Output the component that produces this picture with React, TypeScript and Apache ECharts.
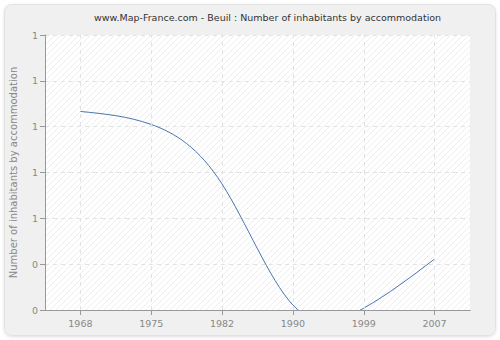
import React, { useEffect, useRef } from "react";
import * as echarts from "echarts";

const title = "www.Map-France.com - Beuil : Number of inhabitants by accommodation";
const yAxisName = "Number of inhabitants by accommodation";
const years = ["1968", "1975", "1982", "1990", "1999", "2007"];
const values = [1.083, 1.012, 0.687, 0.027, 0.01, 0.278];
const yTickLabels = ["0", "0", "1", "1", "1", "1", "1"];
const yStep = 0.25;
const yMax = 1.5;

// natural cubic spline slopes (uniform spacing in category index)
function naturalSplineSlopes(y: number[]): number[] {
  const n = y.length;
  const M = new Array(n).fill(0);
  if (n > 2) {
    const m = n - 2;
    const c: number[] = new Array(m).fill(0);
    const d: number[] = new Array(m).fill(0);
    for (let k = 0; k < m; k++) {
      const i = k + 1;
      const rhs = 6 * (y[i + 1] - 2 * y[i] + y[i - 1]);
      if (k === 0) {
        c[k] = 1 / 4;
        d[k] = rhs / 4;
      } else {
        const den = 4 - c[k - 1];
        c[k] = 1 / den;
        d[k] = (rhs - d[k - 1]) / den;
      }
    }
    for (let k = m - 1; k >= 0; k--) {
      M[k + 1] = d[k] - (k < m - 1 ? c[k] * M[k + 2] : 0);
    }
  }
  const slopes: number[] = [];
  for (let i = 0; i < n - 1; i++) {
    slopes.push(y[i + 1] - y[i] - (2 * M[i] + M[i + 1]) / 6);
  }
  slopes.push(y[n - 1] - y[n - 2] + (M[n - 2] + 2 * M[n - 1]) / 6);
  return slopes;
}

function hatchPattern(): string {
  const c = document.createElement("canvas");
  c.width = 6;
  c.height = 6;
  const ctx = c.getContext("2d");
  if (ctx) {
    ctx.fillStyle = "#ffffff";
    ctx.fillRect(0, 0, 6, 6);
    ctx.strokeStyle = "#eeeeee";
    ctx.lineWidth = 1;
    ctx.beginPath();
    ctx.moveTo(-1, 7);
    ctx.lineTo(7, -1);
    ctx.moveTo(-1, 1);
    ctx.lineTo(1, -1);
    ctx.moveTo(5, 7);
    ctx.lineTo(7, 5);
    ctx.stroke();
  }
  return c.toDataURL();
}

export default function App() {
  const ref = useRef<HTMLDivElement>(null);
  useEffect(() => {
    if (!ref.current) return;
    const chart = echarts.init(ref.current, undefined, { renderer: "svg" });
    const font = "DejaVu Sans";
    const slopes = naturalSplineSlopes(values);
    const lineColor = "#4a76ad";
    const gridColor = "#e2e2e2";
    chart.setOption({
      animation: false,
      backgroundColor: "#ffffff",
      graphic: [
        {
          type: "rect",
          z: -10,
          shape: { x: 4.5, y: 4.5, width: 491, height: 331, r: 7 },
          style: {
            fill: "#f0f0f0",
            stroke: "#e2e2e2",
            lineWidth: 1,
            shadowBlur: 3,
            shadowColor: "rgba(0,0,0,0.12)",
            shadowOffsetY: 1,
          },
        },
      ],
      title: {
        text: title,
        left: 89,
        top: 7,
        textStyle: { fontFamily: font, fontSize: 9.5, fontWeight: "normal", color: "#333333" },
      },
      grid: {
        left: 40,
        right: 30,
        top: 35,
        bottom: 30,
        show: true,
        borderWidth: 0,
        backgroundColor: { image: hatchPattern(), repeat: "repeat" } as any,
      },
      xAxis: [
        {
          type: "category",
          data: years,
          boundaryGap: true,
          axisLine: { show: true, lineStyle: { color: "#999999" } },
          axisTick: { show: true, alignWithLabel: true, length: 5, lineStyle: { color: "#999999" } },
          axisLabel: { fontFamily: font, fontSize: 9.5, color: "#888888", margin: 8 },
          splitLine: { show: false },
        },
        {
          type: "category",
          data: years,
          position: "bottom",
          z: 5,
          axisLine: { show: true, lineStyle: { color: "#999999" } },
          axisTick: { show: false },
          axisLabel: { show: false },
          splitLine: { show: false },
        },
      ],
      yAxis: {
        type: "value",
        min: 0,
        max: yMax,
        interval: yStep,
        name: yAxisName,
        nameLocation: "middle",
        nameGap: 27,
        nameTextStyle: { fontFamily: font, fontSize: 10, color: "#888888" },
        axisLine: { show: true, lineStyle: { color: "#999999" } },
        axisTick: { show: true, length: 5, lineStyle: { color: "#999999" } },
        axisLabel: {
          fontFamily: font,
          fontSize: 9.5,
          color: "#888888",
          margin: 7,
          formatter: (v: number) => yTickLabels[Math.round(v / yStep)] ?? "",
        },
        splitLine: { show: true, lineStyle: { color: gridColor, type: [4, 4] } },
      },
      series: [
        {
          type: "line",
          xAxisIndex: 0,
          data: [],
          z: 1,
          silent: true,
          markLine: {
            silent: true,
            symbol: ["none", "none"],
            label: { show: false },
            lineStyle: { color: gridColor, type: [4, 4], width: 1 },
            data: years.map((y) => ({ xAxis: y })),
          },
        },
        {
          type: "custom",
          xAxisIndex: 0,
          z: 3,
          clip: true,
          data: values.map((v, i) => [i, v]),
          encode: { x: 0, y: 1 },
          renderItem: (params: any, api: any) => {
            const i = params.dataIndex;
            if (i >= values.length - 1) return null;
            const p0 = api.coord([i, values[i]]);
            const p3 = api.coord([i + 1, values[i + 1]]);
            const c1y = api.coord([i, values[i] + slopes[i] / 3])[1];
            const c2y = api.coord([i + 1, values[i + 1] - slopes[i + 1] / 3])[1];
            const dx = p3[0] - p0[0];
            const cs = params.coordSys;
            return {
              type: "group",
              clipPath: {
                type: "rect",
                shape: { x: cs.x, y: cs.y, width: cs.width, height: cs.height },
              },
              children: [
                {
                  type: "bezierCurve",
                  shape: {
                    x1: p0[0],
                    y1: p0[1],
                    cpx1: p0[0] + dx / 3,
                    cpy1: c1y,
                    cpx2: p3[0] - dx / 3,
                    cpy2: c2y,
                    x2: p3[0],
                    y2: p3[1],
                  },
                  style: { stroke: lineColor, lineWidth: 1, fill: null },
                },
              ],
            };
          },
        },
      ],
    });
    return () => chart.dispose();
  }, []);
  return (
    <div
      ref={ref}
      style={{ position: "fixed", left: 0, top: 0, width: 500, height: 340 }}
    />
  );
}
